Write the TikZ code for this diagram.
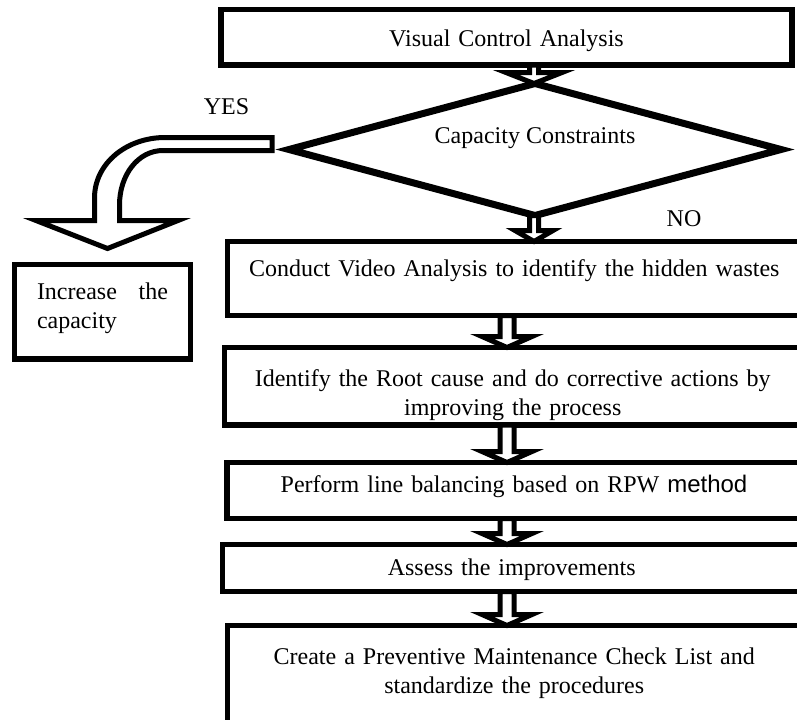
\documentclass[tikz,border=0pt]{standalone}
\usepackage{fontspec}
\setmainfont{Liberation Serif}
\newfontfamily\arialfont{Liberation Sans}
\usetikzlibrary{shapes.geometric,calc}

\tikzset{
  stepbox/.style={draw, rectangle, line width=2.75pt, anchor=north west,
    inner sep=0pt, outer sep=0pt, align=center,
    font=\fontsize{12pt}{14.5pt}\selectfont},
  decision/.style={draw, diamond, aspect=3.7, line width=3.5pt, inner sep=0pt,
    outer sep=0pt, minimum width=246pt, minimum height=66pt,
    text height=6pt, text depth=12.5pt, font=\fontsize{12pt}{14.5pt}\selectfont},
  hollow/.style={draw, fill=white, line width=2.5pt, line join=miter},
  answer/.style={anchor=base, inner sep=0pt, font=\fontsize{12pt}{14.5pt}\selectfont}
}

\newcommand{\flowarrow}[4]{%
  \draw[hollow] ($(#3)+(-#1,0)$) -- ($(#4)+(-#1,-11)$) -- ($(#4)+(-#2,-11)$)
    -- (#4) -- ($(#4)+(#2,-11)$) -- ($(#4)+(#1,-11)$) -- ($(#3)+(#1,0)$) -- cycle;}

\begin{document}
\begin{tikzpicture}[x=0.5pt,y=-0.5pt]
\useasboundingbox (0,0) rectangle (797,719);
\path[fill=white] (0,0) rectangle (797,719);

\node[stepbox, text width=285.5pt, text height=18.5pt, text depth=9.25pt] (visual) at (221,9.5) {Visual Control Analysis};
\node[decision] (capacity) at (535,149.5) {Capacity Constraints};
\node[stepbox, text width=286.75pt, text height=17.25pt, text depth=19.75pt] (video) at (227.5,241.5) {Conduct Video Analysis to identify the hidden wastes};
\node[stepbox, text width=288.25pt, text height=19.25pt, text depth=19.5pt] (root) at (224.5,347.5) {Identify the Root cause and do corrective actions by\\improving the process};
\node[stepbox, text width=287pt, text height=14.75pt, text depth=13.25pt] (balance) at (227,462.5) {Perform line balancing based on RPW {\arialfont method}};
\node[stepbox, text width=289.25pt, text height=15.25pt, text depth=8.25pt] (assess) at (222.5,544.5) {Assess the improvements};
\node[stepbox, text width=286.75pt, text height=19.25pt, text depth=33pt] (maint) at (227.5,625.5) {Create a Preventive Maintenance Check List and\\standardize the procedures};
\node[stepbox, align=justify, inner xsep=11.25pt, text width=65.5pt, text height=17.25pt, text depth=30pt] (increase) at (14.5,264.5) {Increase the\linebreak capacity};

\node[answer] (yes) at (226.5,114) {YES};
\node[answer] (no) at (684,226) {NO};

\coordinate (upper) at (534,0);
\coordinate (lower) at (507,0);
\flowarrow{4.5}{28}{visual.south -| upper}{capacity.north -| upper}
\flowarrow{4.5}{19}{capacity.south -| upper}{video.north -| upper}
\flowarrow{7}{25}{video.south -| lower}{root.north -| lower}
\flowarrow{7}{25}{root.south -| lower}{balance.north -| lower}
\flowarrow{7}{25}{balance.south -| lower}{assess.north -| lower}
\flowarrow{7}{25}{assess.south -| lower}{maint.north -| lower}

\draw[hollow] ($(capacity.west)+(-17,-12)$) -- (165,137.5)
  .. controls (127,137.5) and (94.5,163) .. (94.5,198) -- (94.5,220.5)
  -- (36,220.5) -- ($(increase.north)+(5,-16)$) -- (178,220.5) -- (119.5,220.5)
  -- (119.5,205) .. controls (119.5,175) and (138,150.5) .. (163,150.5)
  -- ($(capacity.west)+(-17,1)$) -- cycle;
\end{tikzpicture}
\end{document}
